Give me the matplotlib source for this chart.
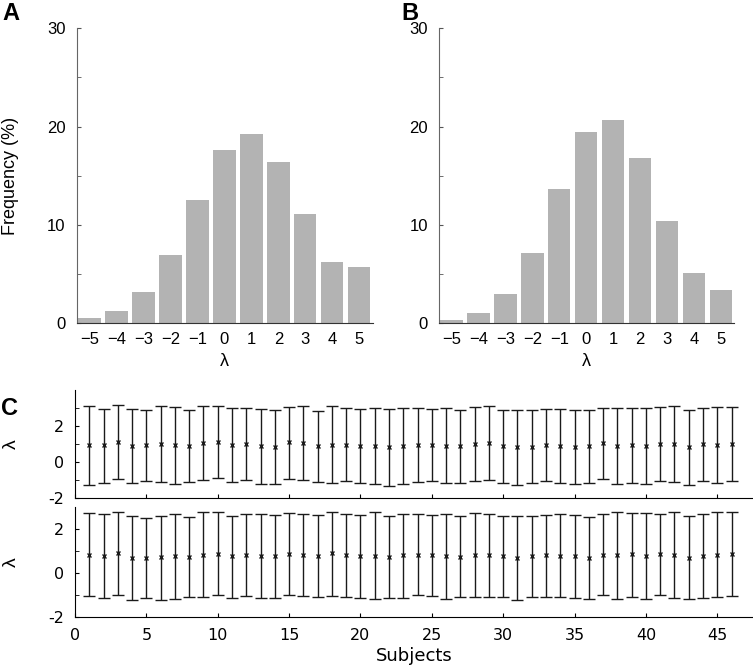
import numpy as np
import matplotlib.pyplot as plt
from matplotlib.ticker import MultipleLocator

# histogram data (percent of trials per lambda value)
lam = np.arange(-5, 6)
freq_a = [0.54, 1.19, 3.13, 6.96, 12.57, 17.6, 19.23, 16.44, 11.14, 6.18, 5.67]
freq_b = [0.37, 1.02, 2.96, 7.13, 13.62, 19.4, 20.69, 16.78, 10.4, 5.13, 3.33]

# per subject estimates, top and bottom rows of panel C
subjects = np.arange(1, 47)
mean_top = [0.95, 0.93, 1.09, 0.89, 0.93, 0.98, 0.93, 0.89, 1.04, 1.11, 0.93,
            1.02, 0.89, 0.84, 1.09, 1.07, 0.87, 0.97, 0.97, 0.89, 0.91, 0.84,
            0.91, 0.97, 0.97, 0.89, 0.89, 1.02, 1.07, 0.89, 0.84, 0.86, 0.97,
            0.89, 0.86, 0.87, 1.06, 0.89, 0.95, 0.91, 1.02, 1.00, 0.82, 0.98, 0.95, 1.00]
upper_top = [3.11, 2.97, 3.15, 2.93, 2.88, 3.10, 3.08, 2.91, 3.10, 3.11, 3.01,
             3.02, 2.95, 2.88, 3.08, 3.10, 2.86, 3.10, 3.02, 2.97, 3.01, 2.97,
             3.02, 3.02, 2.97, 3.01, 2.91, 3.08, 3.11, 2.91, 2.90, 2.90, 2.97,
             2.93, 2.90, 2.88, 3.02, 3.02, 3.02, 3.02, 3.04, 3.11, 2.88, 3.02, 3.04, 3.08]
lower_top = [-1.26, -1.15, -0.97, -1.18, -1.06, -1.13, -1.22, -1.13, -0.98, -0.91, -1.13,
             -1.02, -1.22, -1.20, -0.95, -0.98, -1.13, -1.18, -1.07, -1.18, -1.22, -1.31,
             -1.20, -1.11, -1.04, -1.18, -1.15, -1.07, -0.98, -1.15, -1.26, -1.18, -1.06,
             -1.17, -1.20, -1.15, -0.95, -1.22, -1.18, -1.20, -1.04, -1.13, -1.26, -1.04, -1.15, -1.07]

mean_bot = [0.80, 0.77, 0.89, 0.68, 0.68, 0.71, 0.77, 0.74, 0.84, 0.87, 0.77,
            0.84, 0.78, 0.77, 0.86, 0.84, 0.77, 0.89, 0.81, 0.77, 0.77,
            0.71, 0.80, 0.84, 0.80, 0.77, 0.74, 0.83, 0.84, 0.77, 0.66, 0.77, 0.80,
            0.78, 0.77, 0.69, 0.84, 0.84, 0.86, 0.78, 0.87, 0.81, 0.69, 0.78, 0.83, 0.87]
upper_bot = [2.72, 2.66, 2.79, 2.57, 2.48, 2.61, 2.66, 2.55, 2.75, 2.75, 2.61,
             2.67, 2.70, 2.63, 2.72, 2.70, 2.63, 2.79, 2.70, 2.64, 2.76,
             2.57, 2.67, 2.66, 2.63, 2.69, 2.57, 2.72, 2.70, 2.58, 2.61, 2.61, 2.64,
             2.66, 2.63, 2.55, 2.66, 2.78, 2.72, 2.72, 2.70, 2.76, 2.60, 2.66, 2.75, 2.75]
lower_bot = [-1.05, -1.14, -1.02, -1.25, -1.13, -1.22, -1.17, -1.10, -1.07, -0.98, -1.13,
             -1.05, -1.14, -1.13, -1.02, -1.05, -1.11, -1.05, -1.11, -1.14, -1.20,
             -1.14, -1.14, -1.02, -1.05, -1.17, -1.08, -1.10, -1.07, -1.08, -1.22, -1.11, -1.10,
             -1.11, -1.13, -1.16, -1.01, -1.16, -1.08, -1.19, -1.02, -1.14, -1.20, -1.13, -1.11, -1.04]

plt.rcParams['font.family'] = ['Liberation Sans', 'DejaVu Sans']

fig = plt.figure(figsize=(7.53, 6.65), dpi=100)

def hist_panel(rect, freq, ylabel=None):
    ax = fig.add_axes(rect)
    ax.bar(lam, freq, width=0.83, color='#b3b3b3')
    ax.set_xlim(-5.47, 5.5)
    ax.set_ylim(0, 30)
    ax.set_xticks(lam)
    ax.set_yticks([0, 10, 20, 30])
    ax.yaxis.set_minor_locator(MultipleLocator(5))
    ax.tick_params(axis='x', length=0, pad=6, labelsize=12)
    ax.tick_params(axis='y', which='both', direction='in', length=3, color='#555555', labelsize=12, pad=8)
    for s in ['top', 'right']:
        ax.spines[s].set_visible(False)
    ax.spines['left'].set_color('#666666')
    ax.spines['bottom'].set_color('#333333')
    ax.set_xlabel('λ', fontsize=13, labelpad=5)
    if ylabel:
        ax.set_ylabel(ylabel, fontsize=13, labelpad=20)
    return ax

axA = hist_panel([0.102, 0.514, 0.393, 0.4436], freq_a, 'Frequency (%)')
axB = hist_panel([0.583, 0.514, 0.392, 0.4436], freq_b)

def err_panel(rect, mean, upper, lower, ytop, minors, show_x):
    ax = fig.add_axes(rect)
    m = np.array(mean)
    yerr = [m - np.array(lower), np.array(upper) - m]
    ax.errorbar(subjects, m, yerr=yerr, fmt='x', color='#1a1a1a', ms=3.5, mew=1.0,
                elinewidth=1.0, capsize=4.5, capthick=1.0)
    ax.set_xlim(0, 47.5)
    ax.set_ylim(-2, ytop)
    ax.set_xticks(np.arange(0, 50, 5))
    ax.set_yticks([-2, 0, 2])
    ax.set_yticklabels(['-2', '0', '2'])
    ax.set_yticks(minors, minor=True)
    ax.tick_params(which='both', direction='in', length=3, labelsize=11.5, pad=8,
                   labelfontfamily='DejaVu Sans')
    for s in ['top', 'right']:
        ax.spines[s].set_visible(False)
    ax.set_ylabel('λ', fontsize=14, labelpad=20)
    if not show_x:
        ax.tick_params(axis='x', labelbottom=False)
    return ax

axC1 = err_panel([0.0996, 0.2511, 0.9004, 0.1624], mean_top, upper_top, lower_top, 4, [-1, 1, 3], False)
axC2 = err_panel([0.0996, 0.0722, 0.9004, 0.1654], mean_bot, upper_bot, lower_bot, 3, [-1, 1], True)
axC2.set_xlabel('Subjects', fontsize=13, family='DejaVu Sans', labelpad=3)

fig.text(0.003, 0.997, 'A', fontsize=17, weight='bold', va='top')
fig.text(0.533, 0.997, 'B', fontsize=17, weight='bold', va='top')
fig.text(0.001, 0.403, 'C', fontsize=17, weight='bold', va='top')

fig.savefig('out.png', dpi=100)
